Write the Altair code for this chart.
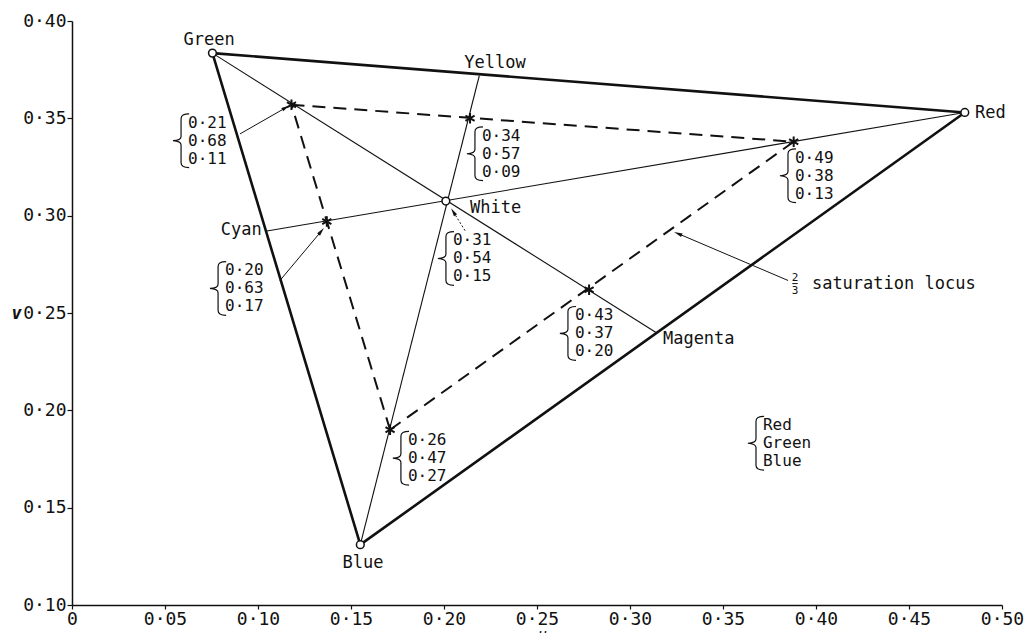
import math
import altair as alt
import pandas as pd

# ---------------- data ----------------
# primaries (u, v)
prim_names = ["Green", "Red", "Blue"]
prim_u = [0.0755, 0.480, 0.155]
prim_v = [0.3835, 0.353, 0.131]

# white point
white_u = [0.201]
white_v = [0.3075]

# complementary points on the triangle sides
sec_names = ["Yellow", "Cyan", "Magenta"]
sec_u = [0.219, 0.104, 0.314]
sec_v = [0.372, 0.292, 0.240]

# 2/3 saturation points (stars)
star_names = ["G", "Y", "R", "M", "B", "C"]
star_u = [0.118, 0.214, 0.388, 0.278, 0.171, 0.137]
star_v = [0.357, 0.350, 0.338, 0.262, 0.190, 0.297]

# bracketed (Red, Green, Blue) triplets and where they sit (middle line)
ann_r = [0.21, 0.20, 0.34, 0.31, 0.49, 0.43, 0.26]
ann_g = [0.68, 0.63, 0.57, 0.54, 0.38, 0.37, 0.47]
ann_b = [0.11, 0.17, 0.09, 0.15, 0.13, 0.20, 0.27]
ann_u = [0.0624, 0.0823, 0.2204, 0.2048, 0.3887, 0.2704, 0.1806]
ann_v = [0.3385, 0.2626, 0.3318, 0.2780, 0.3205, 0.2395, 0.1754]

# key
key_text = ["Red", "Green", "Blue"]
key_u = [0.3715]
key_v = [0.1831]

# text labels
label_text = ["Green", "Red", "Blue", "White", "Yellow", "Cyan", "Magenta", "saturation locus"]
label_u = [0.0737, 0.4855, 0.1565, 0.2140, 0.2274, 0.1020, 0.3177, 0.3978]
label_v = [0.3903, 0.3528, 0.1215, 0.3041, 0.3785, 0.2928, 0.2369, 0.2651]
label_align = ["center", "left", "center", "left", "center", "right", "left", "left"]

# the stacked "2/3" in front of "saturation locus"
frac_num = ["2"]
frac_den = ["3"]
frac_u = [0.3887]
frac_v = [0.2651]

# leader arrows
arrow_u0 = [0.0903, 0.1118, 0.2113, 0.3850]
arrow_v0 = [0.3420, 0.2667, 0.2923, 0.2667]
arrow_u1 = [0.1150, 0.1340, 0.2050, 0.3258]
arrow_v1 = [0.3555, 0.2920, 0.3020, 0.2908]
arrow_dotted = [False, False, True, False]

x_ticks = [0, 0.05, 0.10, 0.15, 0.20, 0.25, 0.30, 0.35, 0.40, 0.45, 0.50]
y_ticks = [0.10, 0.15, 0.20, 0.25, 0.30, 0.35, 0.40]

# ---------------- layout ----------------
W, H = 930, 584
XDOM = [0, 0.5]
YDOM = [0.10, 0.40]
sx = W / (XDOM[1] - XDOM[0])
sy = H / (YDOM[1] - YDOM[0])

FONT = "DejaVu Sans Mono"
INK = "#111111"
LH = 18
ANN_FS = 16

xscale = alt.Scale(domain=XDOM, nice=False, zero=False)
yscale = alt.Scale(domain=YDOM, nice=False, zero=False)

label_expr = "datum.value == 0 ? '0' : replace(format(datum.value, '.2f'), '.', '·')"

xaxis = alt.Axis(values=x_ticks, labelExpr=label_expr, title="u", grid=False,
                 labelFlush=False, labelFont=FONT, labelFontSize=18, labelColor=INK,
                 tickColor=INK, domainColor=INK, domainWidth=1.5, tickWidth=1.2,
                 tickSize=4, labelPadding=1, titleFont=FONT, titleFontSize=15,
                 titleFontStyle="italic", titleFontWeight="normal", titleColor=INK,
                 titleY=22, titleBaseline="top", titleX=470)
yaxis = alt.Axis(values=y_ticks, labelExpr=label_expr, title="v", grid=False,
                 labelFont=FONT, labelFontSize=18, labelColor=INK,
                 tickColor=INK, domainColor=INK, domainWidth=1.5, tickWidth=1.2,
                 tickSize=5, labelPadding=1, titleFont=FONT, titleFontSize=17,
                 titleFontStyle="italic", titleFontWeight="bold", titleColor=INK,
                 titleAngle=0, titleX=-56, titleY=292, titleAlign="center",
                 titleBaseline="middle")


def X(f):
    return alt.X(f, type="quantitative", scale=xscale, axis=xaxis)


def Y(f):
    return alt.Y(f, type="quantitative", scale=yscale, axis=yaxis)


pts = {n: (u, v) for n, u, v in zip(prim_names, prim_u, prim_v)}
pts.update({n: (u, v) for n, u, v in zip(sec_names, sec_u, sec_v)})
pts["White"] = (white_u[0], white_v[0])
stars = {n: (u, v) for n, u, v in zip(star_names, star_u, star_v)}


def seg_df(pairs, lookup):
    rows = []
    for a, b in pairs:
        rows.append({"u0": lookup[a][0], "v0": lookup[a][1],
                     "u1": lookup[b][0], "v1": lookup[b][1]})
    return pd.DataFrame(rows)


thick = seg_df([("Green", "Red"), ("Red", "Blue"), ("Blue", "Green")], pts)
thin = seg_df([("Green", "Magenta"), ("Cyan", "Red"), ("Blue", "Yellow")], pts)
dashed = seg_df([("G", "R"), ("R", "B"), ("B", "G")], stars)

thick_layer = alt.Chart(thick).mark_rule(color=INK, strokeWidth=2.6, strokeCap="round").encode(
    x=X("u0"), y=Y("v0"), x2="u1", y2="v1")
thin_layer = alt.Chart(thin).mark_rule(color=INK, strokeWidth=1.1).encode(
    x=X("u0"), y=Y("v0"), x2="u1", y2="v1")
dashed_layer = alt.Chart(dashed).mark_rule(color=INK, strokeWidth=2.0, strokeDash=[13, 8]).encode(
    x=X("u0"), y=Y("v0"), x2="u1", y2="v1")

# arrows
arr = pd.DataFrame({"u0": arrow_u0, "v0": arrow_v0, "u1": arrow_u1, "v1": arrow_v1,
                    "dotted": arrow_dotted})
arr["angle"] = [
    (math.degrees(math.atan2((b - a) * sx, (d - c) * sy)) + 360) % 360
    for a, b, c, d in zip(arr.u0, arr.u1, arr.v0, arr.v1)
]
solid_arrows = alt.Chart(arr[~arr.dotted]).mark_rule(color=INK, strokeWidth=1.0).encode(
    x=X("u0"), y=Y("v0"), x2="u1", y2="v1")
dotted_arrows = alt.Chart(arr[arr.dotted]).mark_rule(color=INK, strokeWidth=1.0, strokeDash=[2, 2]).encode(
    x=X("u0"), y=Y("v0"), x2="u1", y2="v1")
heads = alt.Chart(arr).mark_point(shape="M0,-1L0.45,1L-0.45,1Z", filled=True, color=INK,
                                  size=70, opacity=1).encode(
    x=X("u1"), y=Y("v1"), angle=alt.Angle("angle:Q", scale=None))

# stars
star_df = pd.DataFrame({"u": star_u, "v": star_v})
star_layer = alt.Chart(star_df).mark_point(
    shape="M0,-1L0,1M-0.87,-0.5L0.87,0.5M-0.87,0.5L0.87,-0.5",
    filled=False, color=INK, strokeWidth=2.0, size=110, opacity=1).encode(x=X("u"), y=Y("v"))

# open circles
circ_df = pd.DataFrame({"u": prim_u + white_u, "v": prim_v + white_v})
circ_layer = alt.Chart(circ_df).mark_point(shape="circle", filled=True, fill="white",
                                           stroke=INK, strokeWidth=1.5, size=60, opacity=1).encode(
    x=X("u"), y=Y("v"))

# labels
lab_df = pd.DataFrame({"u": label_u, "v": label_v, "t": label_text, "al": label_align})
label_layers = []
for al in ["left", "center", "right"]:
    sub = lab_df[lab_df.al == al]
    label_layers.append(
        alt.Chart(sub).mark_text(align=al, baseline="middle", font=FONT, fontSize=17, color=INK).encode(
            x=X("u"), y=Y("v"), text="t:N"))

# stacked fraction 2/3
frac_df = pd.DataFrame({"u": frac_u, "v": frac_v, "n": frac_num, "d": frac_den})
frac_num_layer = alt.Chart(frac_df).mark_text(align="center", baseline="middle", font=FONT,
                                              fontSize=11, color=INK, yOffset=-6).encode(
    x=X("u"), y=Y("v"), text="n:N")
frac_den_layer = alt.Chart(frac_df).mark_text(align="center", baseline="middle", font=FONT,
                                              fontSize=11, color=INK, yOffset=7).encode(
    x=X("u"), y=Y("v"), text="d:N")
frac_bar = alt.Chart(frac_df).mark_point(shape="M-1,0L1,0", filled=False, color=INK,
                                         strokeWidth=1.0, size=30, opacity=1).encode(
    x=X("u"), y=Y("v"))


# bracketed triplets
def fmt(x):
    return f"{x:.2f}".replace(".", "·")


ann_df = pd.DataFrame({
    "u": ann_u + key_u,
    "v": ann_v + key_v,
    "t": ["\n".join(fmt(x) for x in trip) for trip in zip(ann_r, ann_g, ann_b)] + ["\n".join(key_text)],
})
ann_text = alt.Chart(ann_df).mark_text(align="left", baseline="middle", font=FONT, fontSize=ANN_FS,
                                       lineHeight=LH, lineBreak="\n", color=INK,
                                       yOffset=-LH).encode(
    x=X("u"), y=Y("v"), text="t:N")
brace_layer = alt.Chart(ann_df).mark_point(
    shape="M0.3,-1Q0,-1 0,-0.82L0,-0.16Q0,-0.02 -0.3,0Q0,0.02 0,0.16L0,0.82Q0,1 0.3,1",
    filled=False, color=INK, strokeWidth=1.2, size=2900, opacity=1, xOffset=-7).encode(
    x=X("u"), y=Y("v"))

chart = alt.layer(
    thin_layer, thick_layer, dashed_layer, solid_arrows, dotted_arrows, heads,
    star_layer, circ_layer, *label_layers, frac_num_layer, frac_den_layer, frac_bar,
    ann_text, brace_layer
).properties(
    width=W, height=H,
    autosize=alt.AutoSizeParams(type="none"),
    padding={"left": 64, "top": 13, "right": 24, "bottom": 28},
    background="white",
).configure_view(stroke=None)

chart.save("out.html", embed_options={"renderer": "svg", "actions": False})
